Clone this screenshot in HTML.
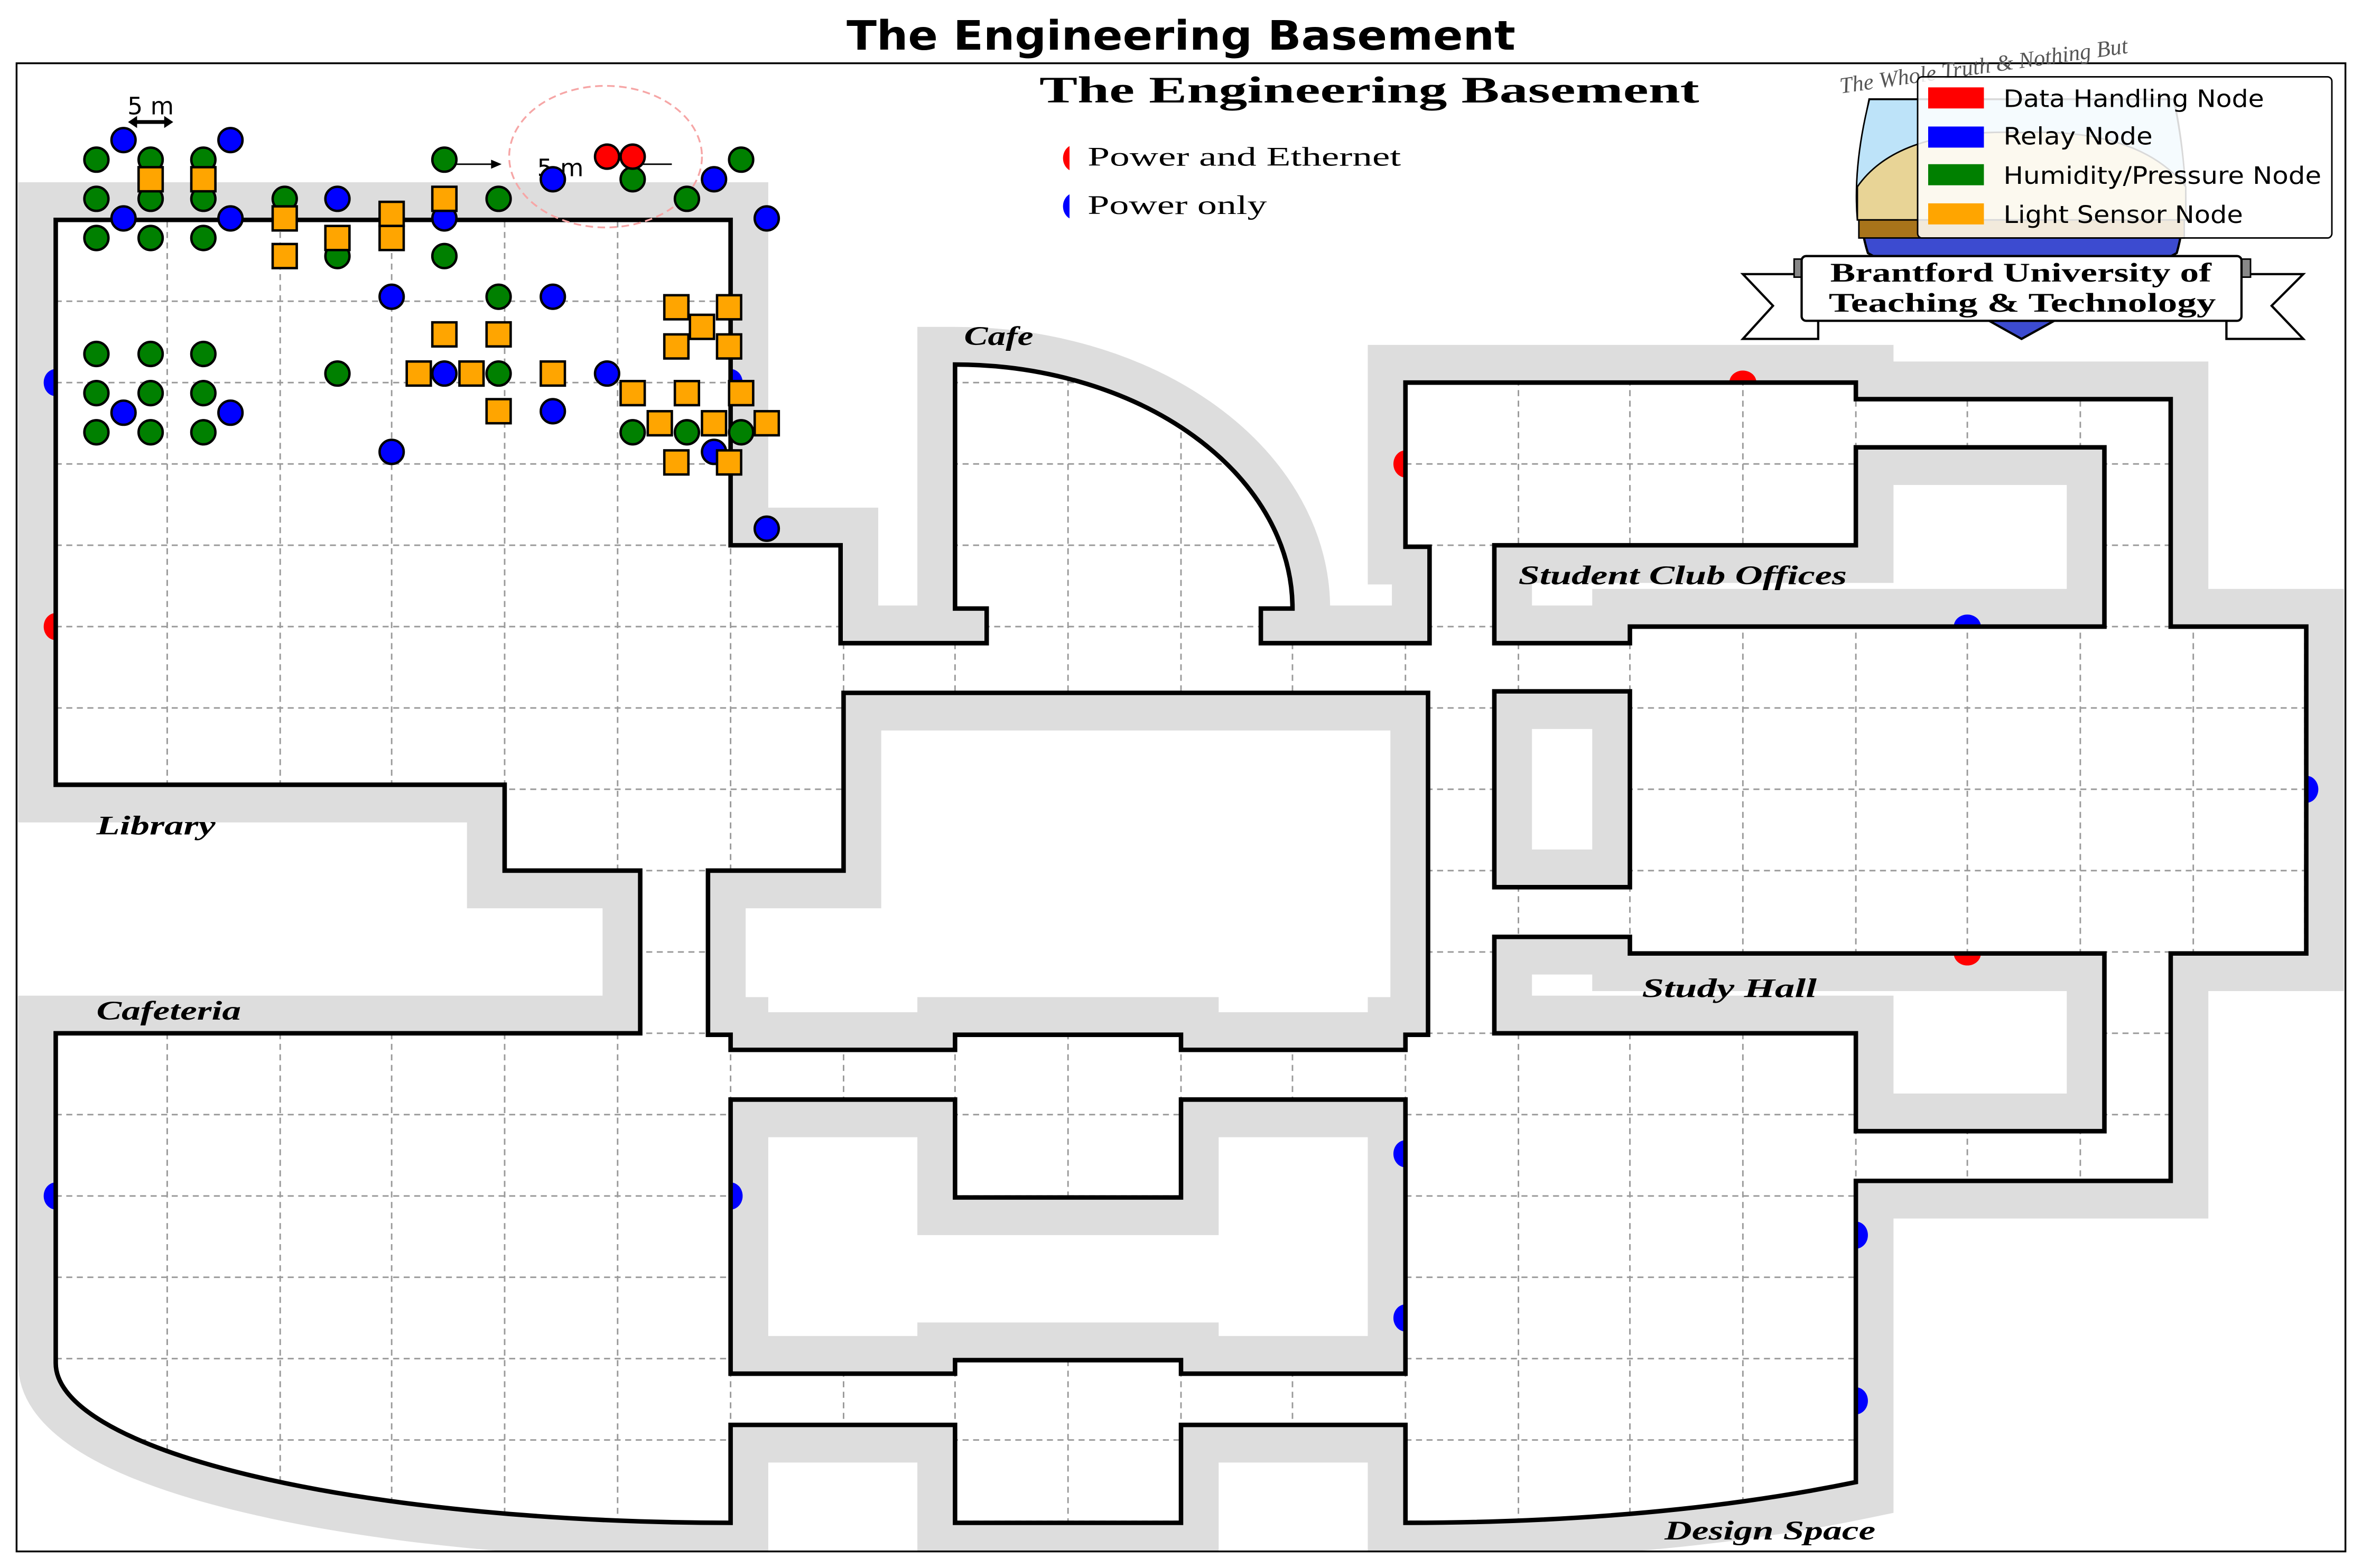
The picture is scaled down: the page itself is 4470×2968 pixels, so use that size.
<!DOCTYPE html>
<html><head><meta charset="utf-8"><style>
html,body{margin:0;padding:0;background:#fff;}
svg{display:block;}
</style></head><body>
<svg width="4470" height="2968" viewBox="0 0 1568 1041" preserveAspectRatio="none" xmlns="http://www.w3.org/2000/svg">
<defs>
<clipPath id="frame"><rect x="11" y="42" width="1546" height="988"/></clipPath>
<clipPath id="bld"><path clip-rule="evenodd" d="M37,146 L485,146 L485,362 L558,362 L558,427 L655,427 L655,404 L634,404 L634,242 A224,162 0 0 1 858,404 L837,404 L837,427 L949,427 L949,363 L933,363 L933,254 L1232,254 L1232,265 L1441,265 L1441,416 L1531,416 L1531,633 L1441,633 L1441,784 L1232,784 L1232,984 Q1100,1011 933,1011 L933,946 L784,946 L784,1011 L634,1011 L634,946 L485,946 L485,1011 A448,106 0 0 1 37,905 L37,686 L425,686 L425,578 L335,578 L335,521 L37,521 Z M470,578 L560,578 L560,460 L948,460 L948,687 L933,687 L933,697 L784,697 L784,687 L634,687 L634,697 L485,697 L485,687 L470,687 Z M485,730 L634,730 L634,795 L784,795 L784,730 L933,730 L933,912 L784,912 L784,903 L634,903 L634,912 L485,912 Z M992,362 L1232,362 L1232,297 L1397,297 L1397,416 L1082,416 L1082,427 L992,427 Z M992,459 L1082,459 L1082,589 L992,589 Z M992,622 L1082,622 L1082,633 L1397,633 L1397,751 L1232,751 L1232,686 L992,686 Z"/></clipPath>
<path id="B" d="M37,146 L485,146 L485,362 L558,362 L558,427 L655,427 L655,404 L634,404 L634,242 A224,162 0 0 1 858,404 L837,404 L837,427 L949,427 L949,363 L933,363 L933,254 L1232,254 L1232,265 L1441,265 L1441,416 L1531,416 L1531,633 L1441,633 L1441,784 L1232,784 L1232,984 Q1100,1011 933,1011 L933,946 L784,946 L784,1011 L634,1011 L634,946 L485,946 L485,1011 A448,106 0 0 1 37,905 L37,686 L425,686 L425,578 L335,578 L335,521 L37,521 Z M470,578 L560,578 L560,460 L948,460 L948,687 L933,687 L933,697 L784,697 L784,687 L634,687 L634,697 L485,697 L485,687 L470,687 Z M485,730 L634,730 L634,795 L784,795 L784,730 L933,730 L933,912 L784,912 L784,903 L634,903 L634,912 L485,912 Z M992,362 L1232,362 L1232,297 L1397,297 L1397,416 L1082,416 L1082,427 L992,427 Z M992,459 L1082,459 L1082,589 L992,589 Z M992,622 L1082,622 L1082,633 L1397,633 L1397,751 L1232,751 L1232,686 L992,686 Z"/>
</defs>

<text x="562" y="33" textLength="444" lengthAdjust="spacingAndGlyphs" font-family="DejaVu Sans, Liberation Sans, sans-serif" font-weight="bold" font-size="27">The Engineering Basement</text>

<g clip-path="url(#frame)">
  <use href="#B" fill="none" stroke="#dddddd" stroke-width="50" stroke-linejoin="miter"/>
  <g>
    <ellipse cx="1157" cy="254" rx="9" ry="8" fill="#ff0000"/>
    <ellipse cx="933" cy="308" rx="8" ry="9" fill="#ff0000"/>
    <ellipse cx="37" cy="416" rx="8" ry="9" fill="#ff0000"/>
    <ellipse cx="1306" cy="633" rx="9" ry="8" fill="#ff0000"/>
    <ellipse cx="37" cy="254" rx="8" ry="9" fill="#0000ff"/>
    <ellipse cx="485" cy="254" rx="8" ry="9" fill="#0000ff"/>
    <ellipse cx="260" cy="146" rx="9" ry="8" fill="#0000ff"/>
    <ellipse cx="1306" cy="416" rx="9" ry="8" fill="#0000ff"/>
    <ellipse cx="1531" cy="524" rx="8" ry="9" fill="#0000ff"/>
    <ellipse cx="37" cy="794" rx="8" ry="9" fill="#0000ff"/>
    <ellipse cx="485" cy="794" rx="8" ry="9" fill="#0000ff"/>
    <ellipse cx="933" cy="766" rx="8" ry="9" fill="#0000ff"/>
    <ellipse cx="933" cy="875" rx="8" ry="9" fill="#0000ff"/>
    <ellipse cx="1232" cy="820" rx="8" ry="9" fill="#0000ff"/>
    <ellipse cx="1232" cy="930" rx="8" ry="9" fill="#0000ff"/>
  </g>
  <use href="#B" fill="#ffffff" fill-rule="evenodd"/>
  <g clip-path="url(#bld)" stroke="#999" stroke-width="1" stroke-dasharray="4,3">
    <path d="M111,140V1015 M186,140V1015 M260,140V1015 M335,140V1015 M410,140V1015 M485,140V1015 M560,140V1015 M634,140V1015 M709,140V1015 M784,140V1015 M858,140V1015 M933,140V1015 M1008,140V1015 M1082,140V1015 M1157,140V1015 M1232,140V1015 M1306,140V1015 M1381,140V1015 M1456,140V1015 M1530,140V1015"/>
    <path d="M30,146H1540 M30,200H1540 M30,254H1540 M30,308H1540 M30,362H1540 M30,416H1540 M30,470H1540 M30,524H1540 M30,578H1540 M30,632H1540 M30,686H1540 M30,740H1540 M30,794H1540 M30,848H1540 M30,902H1540 M30,956H1540 M30,1010H1540"/>
  </g>
  <use href="#B" fill="none" stroke="#000" stroke-width="3" stroke-linejoin="miter"/>
</g>

<rect x="11" y="42" width="1546" height="988" fill="none" stroke="#000" stroke-width="1.2"/>

<g font-family="Liberation Serif, serif" font-style="italic" font-weight="bold" font-size="18" lengthAdjust="spacingAndGlyphs">
  <text x="64" y="554" textLength="79" lengthAdjust="spacingAndGlyphs">Library</text>
  <text x="64" y="677" textLength="96" lengthAdjust="spacingAndGlyphs">Cafeteria</text>
  <text x="640" y="229" textLength="46" lengthAdjust="spacingAndGlyphs">Cafe</text>
  <text x="1008" y="388" textLength="218" lengthAdjust="spacingAndGlyphs">Student Club Offices</text>
  <text x="1090" y="662" textLength="116" lengthAdjust="spacingAndGlyphs">Study Hall</text>
  <text x="1105" y="1022" textLength="140" lengthAdjust="spacingAndGlyphs">Design Space</text>
</g>

<text x="690" y="68" textLength="438" lengthAdjust="spacingAndGlyphs" font-family="Liberation Serif, serif" font-weight="bold" font-size="25">The Engineering Basement</text>
<path d="M710,97 A8,9 0 0 0 710,113 Z" fill="#ff0000"/>
<text x="722" y="110" textLength="208" lengthAdjust="spacingAndGlyphs" font-family="Liberation Serif, serif" font-size="18">Power and Ethernet</text>
<path d="M710,129 A8,9 0 0 0 710,145 Z" fill="#0000ff"/>
<text x="722" y="142" textLength="119" lengthAdjust="spacingAndGlyphs" font-family="Liberation Serif, serif" font-size="18">Power only</text>

<g>
  <text x="1222" y="62" font-family="Liberation Serif, serif" font-style="italic" font-size="15" fill="#555" transform="rotate(-8 1222 62)">The Whole Truth &amp; Nothing But</text>
  <path d="M1241,66 L1443,66 Q1456,130 1445,168 L1342,225 L1240,168 Q1228,130 1241,66 Z" fill="#3c4bd0" stroke="#000" stroke-width="1.5"/>
  <path d="M1241,66 L1443,66 Q1452,110 1451,146 L1233,146 Q1230,110 1241,66 Z" fill="#bde3f9" stroke="#000" stroke-width="1"/>
  <path d="M1233,124 Q1260,85 1342,88 Q1420,85 1451,124 L1451,146 L1233,146 Z" fill="#e8d496" stroke="#000" stroke-width="1"/>
  <rect x="1234" y="146" width="216" height="12" fill="#a8741a" stroke="#000" stroke-width="1"/>
  <path d="M1157,182 L1207,182 L1207,225 L1157,225 L1177,203 Z" fill="#fff" stroke="#000" stroke-width="1.5"/>
  <path d="M1529,182 L1478,182 L1478,225 L1529,225 L1508,203 Z" fill="#fff" stroke="#000" stroke-width="1.5"/>
  <rect x="1191" y="172" width="13" height="12" fill="#888" stroke="#000" stroke-width="1"/>
  <rect x="1481" y="172" width="13" height="12" fill="#888" stroke="#000" stroke-width="1"/>
  <rect x="1196" y="170" width="292" height="43" rx="3" fill="#fff" stroke="#000" stroke-width="1.5"/>
  <text x="1215" y="187" textLength="253" lengthAdjust="spacingAndGlyphs" font-family="Liberation Serif, serif" font-weight="bold" font-size="18">Brantford University of</text>
  <text x="1214" y="207" textLength="257" lengthAdjust="spacingAndGlyphs" font-family="Liberation Serif, serif" font-weight="bold" font-size="18">Teaching &amp; Technology</text>
</g>

<g>
  <rect x="1273" y="51" width="275" height="107" rx="3" fill="#ffffff" fill-opacity="0.85" stroke="#000" stroke-width="1"/>
  <rect x="1280" y="58" width="37" height="14" fill="#ff0000"/>
  <rect x="1280" y="84" width="37" height="14" fill="#0000ff"/>
  <rect x="1280" y="109" width="37" height="14" fill="#008000"/>
  <rect x="1280" y="135" width="37" height="14" fill="#ffa500"/>
  <g font-family="DejaVu Sans, Liberation Sans, sans-serif" font-size="16">
    <text x="1330" y="71" textLength="173" lengthAdjust="spacingAndGlyphs">Data Handling Node</text>
    <text x="1330" y="96" textLength="99" lengthAdjust="spacingAndGlyphs">Relay Node</text>
    <text x="1330" y="122" textLength="211" lengthAdjust="spacingAndGlyphs">Humidity/Pressure Node</text>
    <text x="1330" y="148" textLength="159" lengthAdjust="spacingAndGlyphs">Light Sensor Node</text>
  </g>
</g>

<text x="100" y="76" text-anchor="middle" font-family="DejaVu Sans, Liberation Sans, sans-serif" font-size="16">5 m</text>
<path d="M87,81 H113" stroke="#000" stroke-width="2.5"/>
<path d="M85,81 L91,77 L91,85 Z M115,81 L109,77 L109,85 Z" fill="#000"/>
<ellipse cx="402" cy="104" rx="64" ry="47" fill="none" stroke="#f6a6a6" stroke-width="1.2" stroke-dasharray="5,3"/>
<path d="M303,109 H330" stroke="#000" stroke-width="1"/>
<path d="M333,109 L326,106 L326,112 Z" fill="#000"/>
<path d="M414,109 H446" stroke="#000" stroke-width="1"/>
<text x="372" y="117" text-anchor="middle" font-family="DejaVu Sans, Liberation Sans, sans-serif" font-size="16">5 m</text>

<g stroke="#000" stroke-width="1.6">
  <g fill="#008000">
    <circle cx="64" cy="106" r="8"/><circle cx="100" cy="106" r="8"/><circle cx="135" cy="106" r="8"/>
    <circle cx="64" cy="132" r="8"/><circle cx="100" cy="132" r="8"/><circle cx="135" cy="132" r="8"/>
    <circle cx="64" cy="158" r="8"/><circle cx="100" cy="158" r="8"/><circle cx="135" cy="158" r="8"/>
    <circle cx="189" cy="132" r="8"/><circle cx="224" cy="170" r="8"/><circle cx="295" cy="106" r="8"/>
    <circle cx="295" cy="170" r="8"/><circle cx="331" cy="132" r="8"/><circle cx="420" cy="119" r="8"/>
    <circle cx="456" cy="132" r="8"/><circle cx="492" cy="106" r="8"/><circle cx="331" cy="197" r="8"/>
    <circle cx="64" cy="235" r="8"/><circle cx="100" cy="235" r="8"/><circle cx="135" cy="235" r="8"/>
    <circle cx="64" cy="261" r="8"/><circle cx="100" cy="261" r="8"/><circle cx="135" cy="261" r="8"/>
    <circle cx="64" cy="287" r="8"/><circle cx="100" cy="287" r="8"/><circle cx="135" cy="287" r="8"/>
    <circle cx="224" cy="248" r="8"/><circle cx="331" cy="248" r="8"/>
    <circle cx="420" cy="287" r="8"/><circle cx="456" cy="287" r="8"/><circle cx="492" cy="287" r="8"/>
  </g>
  <g fill="#0000ff">
    <circle cx="82" cy="93" r="8"/><circle cx="153" cy="93" r="8"/><circle cx="82" cy="145" r="8"/>
    <circle cx="153" cy="145" r="8"/><circle cx="224" cy="132" r="8"/><circle cx="295" cy="145" r="8"/>
    <circle cx="367" cy="119" r="8"/><circle cx="474" cy="119" r="8"/><circle cx="509" cy="145" r="8"/>
    <circle cx="260" cy="197" r="8"/><circle cx="367" cy="197" r="8"/><circle cx="295" cy="248" r="8"/>
    <circle cx="403" cy="248" r="8"/><circle cx="82" cy="274" r="8"/><circle cx="153" cy="274" r="8"/>
    <circle cx="367" cy="273" r="8"/><circle cx="260" cy="300" r="8"/><circle cx="474" cy="300" r="8"/>
    <circle cx="509" cy="351" r="8"/>
  </g>
  <g fill="#ff0000">
    <circle cx="403" cy="104" r="8"/><circle cx="420" cy="104" r="8"/>
  </g>
  <g fill="#ffa500">
    <rect x="92" y="111" width="16" height="16"/><rect x="127" y="111" width="16" height="16"/>
    <rect x="181" y="137" width="16" height="16"/><rect x="181" y="162" width="16" height="16"/>
    <rect x="216" y="150" width="16" height="16"/><rect x="252" y="134" width="16" height="16"/>
    <rect x="252" y="150" width="16" height="16"/><rect x="287" y="124" width="16" height="16"/>
    <rect x="287" y="214" width="16" height="16"/><rect x="323" y="214" width="16" height="16"/>
    <rect x="270" y="240" width="16" height="16"/><rect x="305" y="240" width="16" height="16"/>
    <rect x="359" y="240" width="16" height="16"/><rect x="323" y="265" width="16" height="16"/>
    <rect x="441" y="196" width="16" height="16"/><rect x="476" y="196" width="16" height="16"/>
    <rect x="458" y="209" width="16" height="16"/><rect x="441" y="222" width="16" height="16"/>
    <rect x="476" y="222" width="16" height="16"/><rect x="412" y="253" width="16" height="16"/>
    <rect x="448" y="253" width="16" height="16"/><rect x="484" y="253" width="16" height="16"/>
    <rect x="430" y="273" width="16" height="16"/><rect x="466" y="273" width="16" height="16"/>
    <rect x="501" y="273" width="16" height="16"/><rect x="441" y="299" width="16" height="16"/>
    <rect x="476" y="299" width="16" height="16"/>
  </g>
</g>
</svg>
</body></html>
